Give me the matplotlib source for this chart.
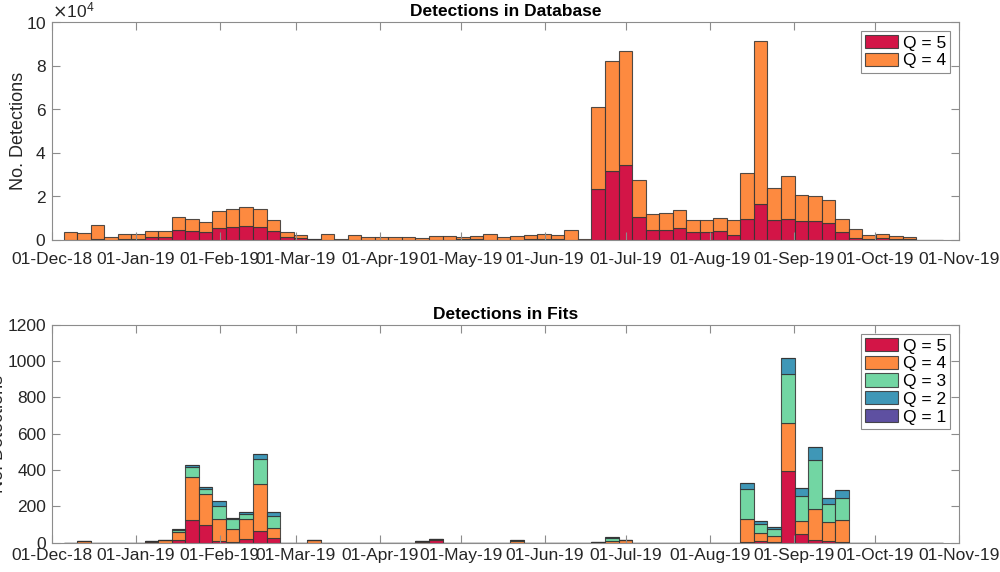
#!/usr/bin/env python

import numpy as np
import datetime as dt
import matplotlib
matplotlib.use('Agg')
import matplotlib.pyplot as plt
import matplotlib.dates as mdates
from matplotlib.ticker import ScalarFormatter

## -- 5 day bins, first bin starts 05-Dec-18
bin_start = dt.datetime(2018, 12, 5, 6)
bin_days = 5
n_bins = 65

## Detections in database, per bin
db_q5 = [0, 0, 400, 0, 200, 500, 1500, 1400, 4600, 4100,
	3500, 5500, 6000, 6400, 6000, 4100, 1500, 900, 200, 100,
	0, 100, 0, 0, 0, 0, 0, 0, 0, 200,
	300, 100, 0, 100, 300, 600, 300, 0, 0, 23300,
	31500, 34400, 10700, 4500, 4500, 5400, 3600, 3400, 4000, 2200,
	9600, 16500, 9100, 9500, 8500, 8600, 7700, 3500, 1000, 300,
	900, 500, 300, 0, 0]
db_q4 = [3600, 3200, 6300, 1400, 2600, 2300, 2600, 2700, 6100, 5500,
	4800, 7800, 8200, 8600, 8400, 5100, 2200, 1400, 400, 2400,
	600, 2200, 1500, 1100, 1500, 1100, 900, 2000, 2000, 1300,
	1700, 2700, 1200, 1900, 2100, 2000, 2100, 4400, 600, 37600,
	50600, 52300, 16700, 7300, 7900, 8200, 5500, 5700, 6200, 6900,
	21000, 74800, 14500, 19700, 12000, 11500, 10500, 5900, 4000, 2100,
	1700, 1300, 1000, 50, 0]

## Detections in fits, per bin (only non-empty bins listed)
fit_bins = [1, 6, 7, 8, 9, 10, 11, 12, 13, 14, 15, 18, 26, 27, 33, 39, 40, 41,
	50, 51, 52, 53, 54, 55, 56, 57]
fit_q5 = [0, 2, 0, 15, 125, 99, 7, 5, 20, 64, 24, 0, 2, 14, 0, 0, 0, 0,
	2, 11, 4, 397, 48, 15, 7, 5]
fit_q4 = [12, 10, 13, 46, 235, 169, 123, 68, 108, 257, 55, 13, 5, 4, 10, 6, 11, 13,
	129, 40, 33, 261, 74, 169, 105, 118]
fit_q3 = [0, 0, 0, 9, 59, 26, 74, 55, 28, 138, 70, 0, 0, 0, 3, 0, 17, 0,
	164, 53, 40, 274, 138, 274, 103, 125]
fit_q2 = [0, 0, 0, 5, 11, 11, 28, 9, 11, 28, 22, 0, 0, 0, 2, 0, 3, 0,
	35, 17, 11, 86, 40, 70, 29, 44]
fit_q1 = [0] * len(fit_bins)

q_labels = ['Q = 5', 'Q = 4', 'Q = 3', 'Q = 2', 'Q = 1']
q_colors = ['#D31547', '#FD8A40', '#72D6A3', '#3F97B7', '#5E50A1']

plt.rcParams['font.family'] = ['Liberation Sans', 'DejaVu Sans']
plt.rcParams['font.size'] = 12.5

edges = mdates.date2num([bin_start + dt.timedelta(days=bin_days * i) for i in range(n_bins)])

def full(bins, vals):
	out = np.zeros(n_bins)
	out[bins] = vals
	return out

def stacked(ax, layers):
	bottom = np.zeros(n_bins)
	for i, vals in enumerate(layers):
		ax.bar(edges, vals, width=bin_days, bottom=bottom, align='edge',
			color=q_colors[i], edgecolor=(0.2, 0.2, 0.2, 0.85), linewidth=0.8, label=q_labels[i])
		bottom = bottom + np.asarray(vals)

def style(ax, title, xpad):
	ax.set_xlim(mdates.date2num(dt.datetime(2018, 12, 1)), mdates.date2num(dt.datetime(2019, 11, 1)))
	ax.xaxis.set_major_locator(mdates.MonthLocator())
	ax.xaxis.set_major_formatter(mdates.DateFormatter('%d-%b-%y'))
	ax.tick_params(direction='in', top=True, right=True, length=6, width=0.8,
		color='#8c8c8c', labelcolor='#262626', labelsize=12.5)
	ax.tick_params(axis='x', pad=xpad)
	ax.tick_params(axis='y', pad=4)
	for s in ax.spines.values():
		s.set_color('#8c8c8c')
		s.set_linewidth(0.8)
	ax.set_title(title, fontweight='bold', fontsize=12.5, pad=4)
	ax.set_ylabel('No. Detections', color='#262626', fontsize=13)
	leg = ax.legend(loc='upper right', fancybox=False, framealpha=1, edgecolor='#8c8c8c',
		fontsize=12.5, handlelength=1.9, handleheight=0.8, handletextpad=0.25,
		borderpad=0.25, labelspacing=0.12, borderaxespad=0.5)
	leg.get_frame().set_linewidth(0.8)

fig, (ax1, ax2) = plt.subplots(2, 1, figsize=(10, 5.72), dpi=100)
plt.subplots_adjust(left=0.052, right=0.959, top=0.9615, bottom=0.0512, hspace=0.39)

## -- Database
stacked(ax1, [db_q5, db_q4])
ax1.set_ylim(0, 100000)
ax1.set_yticks(np.arange(0, 100001, 20000))
fmt = ScalarFormatter(useMathText=True)
fmt.set_powerlimits((4, 4))
ax1.yaxis.set_major_formatter(fmt)
ax1.yaxis.get_offset_text().set_fontsize(12.5)
ax1.yaxis.get_offset_text().set_color('#262626')
style(ax1, 'Detections in Database', 9)
ax1.yaxis.set_label_coords(-0.028, 0.5)

## -- Fits
stacked(ax2, [full(fit_bins, fit_q5), full(fit_bins, fit_q4), full(fit_bins, fit_q3),
	full(fit_bins, fit_q2), full(fit_bins, fit_q1)])
ax2.set_ylim(0, 1200)
ax2.set_yticks(np.arange(0, 1201, 200))
style(ax2, 'Detections in Fits', 4)
ax2.yaxis.set_label_coords(-0.05, 0.5)

plt.savefig('out.png', format='png', dpi=100)
